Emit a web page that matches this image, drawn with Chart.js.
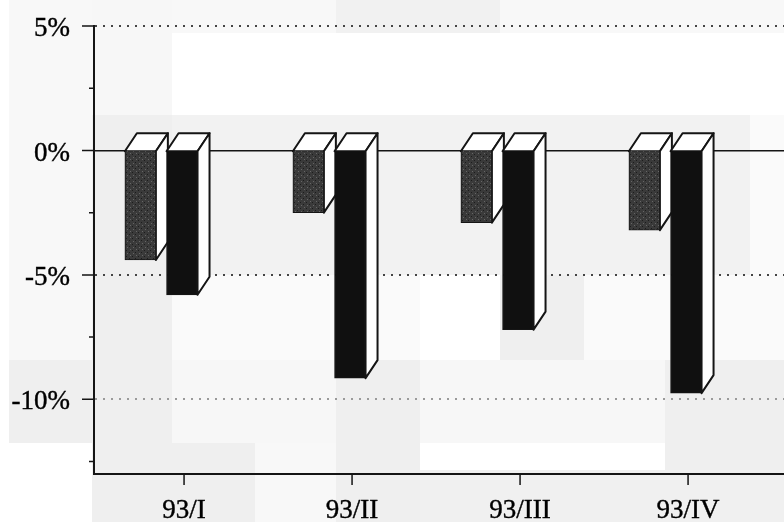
<!DOCTYPE html>
<html>
<head>
<meta charset="utf-8">
<style>
  html, body { margin: 0; padding: 0; background: #fff; overflow: hidden; }
  canvas { display: block; }
</style>
<script src="https://cdn.jsdelivr.net/npm/chart.js@4"></script>
</head>
<body>
<canvas id="chart" width="784" height="522"></canvas>
<script>
const categories = ['93/I', '93/II', '93/III', '93/IV'];
const lightSeries = [-4.4, -2.5, -2.9, -3.2];
const darkSeries = [-5.8, -9.15, -7.2, -9.75];
const yTicks = [5, 2.5, 0, -2.5, -5, -7.5, -10, -12.5];

// scan blotches behind the chart: x, y, w, h, colour
const patches = [
  [9, 0, 83, 360, '#f8f8f8'], [9, 360, 83, 83, '#efefef'],
  [92, 0, 80, 115, '#f7f7f7'], [172, 0, 612, 33, '#f8f8f8'], [336, 0, 164, 33, '#f1f1f1'],
  [92, 115, 80, 328, '#efefef'], [172, 115, 578, 160, '#f2f2f2'], [750, 115, 34, 160, '#fafafa'],
  [172, 275, 248, 85, '#fafafa'], [500, 275, 84, 85, '#efefef'], [584, 275, 200, 85, '#fafafa'],
  [172, 360, 164, 83, '#f7f7f7'], [336, 360, 84, 162, '#efefef'], [420, 360, 245, 83, '#f7f7f7'],
  [665, 360, 119, 110, '#efefef'], [92, 443, 163, 79, '#efefef'], [255, 443, 81, 79, '#f8f8f8'],
  [420, 470, 364, 52, '#f0f0f0']
];

const depthX = 12;
const depthY = 18;
const inkColor = '#151515';

function speckle() {
  const tile = document.createElement('canvas');
  tile.width = tile.height = 6;
  const c = tile.getContext('2d');
  c.fillStyle = '#3a3a3a';
  c.fillRect(0, 0, 6, 6);
  c.fillStyle = '#666';
  c.fillRect(1, 1, 1, 1);
  c.fillRect(4, 3, 1, 1);
  c.fillStyle = '#1c1c1c';
  c.fillRect(3, 0, 1, 1);
  c.fillRect(0, 4, 1, 1);
  return c.createPattern(tile, 'repeat');
}

const backdrop = {
  id: 'backdrop',
  beforeDraw(chart) {
    const ctx = chart.ctx;
    patches.forEach(([x, y, w, h, color]) => {
      ctx.fillStyle = color;
      ctx.fillRect(x, y, w, h);
    });
  }
};

// top and side faces of each bar, drawn just before the front faces
const faces = {
  id: 'faces',
  beforeDatasetDraw(chart, args) {
    const ctx = chart.ctx;
    ctx.save();
    ctx.fillStyle = '#fff';
    ctx.strokeStyle = inkColor;
    ctx.lineWidth = 2;
    ctx.lineJoin = 'round';
    args.meta.data.forEach(bar => {
      const left = bar.x - bar.width / 2;
      const right = bar.x + bar.width / 2;
      ctx.beginPath();
      ctx.moveTo(left, bar.base);
      ctx.lineTo(left + depthX, bar.base - depthY);
      ctx.lineTo(right + depthX, bar.base - depthY);
      ctx.lineTo(right, bar.base);
      ctx.closePath();
      ctx.fill();
      ctx.stroke();
      ctx.beginPath();
      ctx.moveTo(right, bar.base);
      ctx.lineTo(right + depthX, bar.base - depthY);
      ctx.lineTo(right + depthX, bar.y - depthY);
      ctx.lineTo(right, bar.y);
      ctx.closePath();
      ctx.fill();
      ctx.stroke();
    });
    ctx.restore();
  }
};

// long and short tick marks
const tickMarks = {
  id: 'tickMarks',
  afterDraw(chart) {
    const ctx = chart.ctx;
    const { x, y } = chart.scales;
    ctx.save();
    ctx.strokeStyle = inkColor;
    ctx.lineWidth = 1.5;
    ctx.beginPath();
    y.ticks.forEach(t => {
      const py = y.getPixelForValue(t.value);
      ctx.moveTo(x.left - (t.value % 5 === 0 ? 12 : 5), py);
      ctx.lineTo(x.left, py);
    });
    x.ticks.forEach(t => {
      const px = x.getPixelForValue(t.value);
      ctx.moveTo(px, y.bottom);
      ctx.lineTo(px, y.bottom + 11);
    });
    ctx.stroke();
    ctx.restore();
  }
};

const toPoints = (values, shift) => values.map((v, i) => ({ x: i + 1 + shift, y: v }));

new Chart(document.getElementById('chart'), {
  type: 'bar',
  data: {
    datasets: [
      { data: toPoints(lightSeries, -0.26), backgroundColor: speckle(), borderColor: inkColor, borderWidth: 1, order: 2 },
      { data: toPoints(darkSeries, -0.012), backgroundColor: '#101010', borderColor: inkColor, borderWidth: 1, order: 1 }
    ]
  },
  plugins: [backdrop, faces, tickMarks],
  options: {
    responsive: false,
    animation: false,
    events: [],
    layout: { padding: { top: 26 } },
    plugins: { legend: { display: false }, tooltip: { enabled: false } },
    datasets: { bar: { grouped: false, barThickness: 31 } },
    scales: {
      x: {
        type: 'linear',
        offset: false,
        min: 0.464,
        max: 4.571,
        afterBuildTicks: s => { s.ticks = categories.map((c, i) => ({ value: i + 1 })); },
        afterFit: s => { s.height = 48; s.paddingLeft = 0; s.paddingRight = 0; },
        grid: { display: false },
        border: { display: true, color: inkColor, width: 2 },
        ticks: {
          autoSkip: false,
          maxRotation: 0,
          padding: 13,
          color: '#000',
          textStrokeColor: '#000',
          textStrokeWidth: 0.4,
          font: { family: 'Liberation Serif', size: 27 },
          callback: v => categories[v - 1]
        }
      },
      y: {
        min: -13,
        max: 5,
        afterBuildTicks: s => { s.ticks = yTicks.map(value => ({ value })); },
        afterFit: s => { s.width = 94; s.paddingTop = 0; s.paddingBottom = 0; },
        grid: {
          drawTicks: false,
          lineWidth: c => (c.tick.value === 0 ? 1.5 : 2),
          color: c => {
            const v = c.tick.value;
            if (v === 0) return inkColor;
            if (v % 5 !== 0) return 'rgba(0,0,0,0)';
            return v === -10 ? '#9a9a9a' : '#444';
          }
        },
        border: {
          display: true,
          color: inkColor,
          width: 2,
          dash: c => (c.tick && c.tick.value === 0 ? [] : [2, 6])
        },
        ticks: {
          autoSkip: false,
          padding: 24,
          labelOffset: 3,
          color: '#000',
          textStrokeColor: '#000',
          textStrokeWidth: 0.4,
          font: { family: 'Liberation Serif', size: 27 },
          callback: v => (v % 5 === 0 ? v + '%' : '')
        }
      }
    }
  }
});
</script>
</body>
</html>
